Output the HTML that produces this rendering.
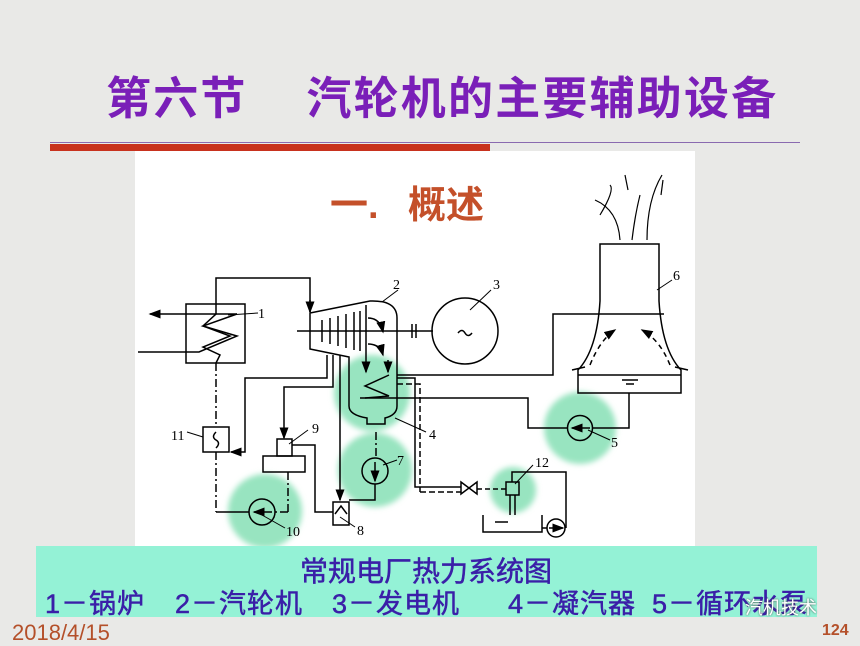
<!DOCTYPE html>
<html><head><meta charset="utf-8"><style>
body{margin:0;width:860px;height:645px;overflow:hidden;background:#e9e9e7;font-family:"Liberation Sans","Noto Sans CJK SC",sans-serif;position:relative}
.t{position:absolute;white-space:nowrap}
.b{font-size:27px;color:#3a1fa8;top:582px;-webkit-text-stroke:0.5px #3a1fa8;letter-spacing:1px}
</style></head><body>
<div class="t" style="left:106px;top:62px;font-size:45px;font-weight:bold;color:#7a1fb8;letter-spacing:2.2px">第六节&nbsp;&nbsp;&nbsp;&nbsp;汽轮机的主要辅助设备</div>
<div style="position:absolute;left:50px;top:144px;width:440px;height:7px;background:#c8321e"></div>
<div style="position:absolute;left:50px;top:142px;width:750px;height:1px;background:#8a6ab0"></div>
<div style="position:absolute;left:135px;top:151px;width:560px;height:395px;background:#fff"></div>
<svg style="position:absolute;left:0;top:0" width="860" height="645">
<defs><filter id="b"><feGaussianBlur stdDeviation="3"/></filter>
<marker id="a" markerWidth="8" markerHeight="6" refX="7" refY="3" orient="auto"><path d="M0,0L8,3L0,6z" fill="#000"/></marker></defs>
<g fill="#98e4c0" filter="url(#b)">
<circle cx="372" cy="393" r="38"/><circle cx="580" cy="428" r="36"/><circle cx="375" cy="470" r="37"/><circle cx="265" cy="511" r="37"/><circle cx="513" cy="490" r="23"/>
</g>
<g stroke="#000" stroke-width="1.5" fill="none">
<rect x="186" y="304" width="59" height="59"/>
<line x1="237" y1="314" x2="150" y2="314" marker-end="url(#a)"/>
<polyline points="138,352 199,352 237,336 203,326 237,314"/>
<polyline points="216,363 220,355 203,347 230,336 203,326 216,314 216,278 310,278 310,312" />
<line x1="310" y1="300" x2="310" y2="312" marker-end="url(#a)"/>
<path d="M310,313 L370,301 Q397,300 397,318 L397,370 L397,406 Q397,415 385,418 L385,424 L367,424 L367,418 Q349,415 349,406 L349,357 L310,349 Z"/>
<g><line x1="322" y1="320" x2="322" y2="342"/><line x1="330" y1="318" x2="330" y2="344"/><line x1="338" y1="316" x2="338" y2="346"/><line x1="346" y1="314" x2="346" y2="348"/><line x1="354" y1="312" x2="354" y2="350"/><line x1="360" y1="311" x2="360" y2="351"/><line x1="366" y1="305" x2="366" y2="360"/></g>
<path d="M368,318 Q380,318 383,332" marker-end="url(#a)"/><path d="M368,344 Q380,344 383,355" marker-end="url(#a)"/>
<line x1="366" y1="360" x2="366" y2="372" marker-end="url(#a)"/><line x1="388" y1="360" x2="388" y2="372" marker-end="url(#a)"/>
<polyline points="389,375 365,386 389,396 365,398"/>
<line x1="297" y1="331" x2="433" y2="331"/><line x1="412" y1="324" x2="412" y2="338"/><line x1="416" y1="324" x2="416" y2="338"/>
<circle cx="465" cy="331" r="33"/><path d="M458,333 q4,-5 7,0 q3,5 7,0"/>
<path d="M600,301 L600,244 L659,244 L659,301 Q662,350 681,370 L681,393 L578,393 L578,370 Q597,350 600,301Z"/>
<line x1="578" y1="375" x2="681" y2="375"/>
<line x1="572" y1="370" x2="585" y2="367"/><line x1="688" y1="370" x2="675" y2="367"/>
<polyline points="397,375 553,375 553,314 664,314" />
<g stroke-dasharray="5,4"><path d="M590,365 Q600,340 615,330" marker-end="url(#a)"/><path d="M670,365 Q660,340 642,330" marker-end="url(#a)"/></g>
<line x1="622" y1="380" x2="638" y2="380"/><line x1="626" y1="384" x2="634" y2="384"/>
<polyline points="360,398 528,398 528,428 568,428"/><polyline points="592,428 629,428 629,393"/>
<circle cx="580" cy="428" r="12.5"/><line x1="590" y1="428" x2="572" y2="428" marker-end="url(#a)"/>
<polyline points="327,355 327,378 245,378 245,452 231,452" marker-end="url(#a)"/>
<polyline points="333,355 333,387 284,387 284,438" marker-end="url(#a)"/>
<polyline points="340,355 340,500" marker-end="url(#a)"/>
<rect x="203" y="427" width="26" height="25"/><path d="M216,432 q-5,5 0,8 q5,3 0,8"/>
<rect x="277" y="439" width="15" height="17"/><rect x="263" y="456" width="42" height="16"/>
<circle cx="375" cy="471" r="13"/><line x1="375" y1="462" x2="375" y2="481" marker-end="url(#a)"/>
<polyline points="375,484 375,500 349,500"/>
<rect x="333" y="502" width="16" height="23"/><path d="M335,514 l6,-8 l6,8"/>
<polyline points="333,512 315,512 315,445 292,445"/>
<circle cx="262" cy="512" r="13"/><line x1="272" y1="512" x2="254" y2="512" marker-end="url(#a)"/>
<polyline points="249,512 216,512"/>
<g stroke-dasharray="8,3,2,3"><line x1="216" y1="363" x2="216" y2="427"/><line x1="216" y1="452" x2="216" y2="512"/><line x1="288" y1="472" x2="288" y2="512"/><line x1="288" y1="512" x2="275" y2="512"/><line x1="376" y1="432" x2="376" y2="458"/></g>
<polyline points="397,378 415,378 415,487 461,487"/><polyline points="397,384 420,384 420,492" stroke-dasharray="6,3"/>
<line x1="420" y1="492" x2="461" y2="492" stroke-dasharray="6,3"/>
<path d="M461,482 L477,494 L477,482 L461,494Z"/>
<line x1="477" y1="489" x2="506" y2="489" stroke-dasharray="5,3"/>
<rect x="506" y="482" width="13" height="13"/>
<line x1="510" y1="495" x2="510" y2="515"/><line x1="515" y1="495" x2="515" y2="515"/>
<polyline points="512,482 512,472 566,472 566,528"/>
<path d="M483,515 L483,532 L542,532 L542,515"/><line x1="495" y1="522" x2="508" y2="522"/>
<circle cx="556" cy="528" r="9"/><line x1="549" y1="528" x2="563" y2="528" marker-end="url(#a)"/>
<line x1="542" y1="528" x2="547" y2="528"/>
<g stroke-width="1"><line x1="228" y1="315" x2="258" y2="313"/><line x1="382" y1="302" x2="398" y2="290"/><line x1="470" y1="310" x2="491" y2="290"/><line x1="657" y1="290" x2="672" y2="280"/><line x1="395" y1="418" x2="426" y2="432"/><line x1="588" y1="430" x2="610" y2="440"/><line x1="383" y1="465" x2="397" y2="460"/><line x1="262" y1="515" x2="285" y2="528"/><line x1="340" y1="517" x2="355" y2="527"/><line x1="187" y1="432" x2="203" y2="437"/><line x1="289" y1="444" x2="308" y2="430"/><line x1="515" y1="484" x2="533" y2="465"/></g>
<g stroke-width="1.2"><path d="M620,240 q-2,-30 -25,-40"/><path d="M647,240 q0,-40 15,-65"/><path d="M632,240 q3,-25 8,-45"/><path d="M600,215 q15,-25 10,-30"/><path d="M625,175 l3,15"/><path d="M663,180 l-2,15"/></g>
</g>
<g font-family="Liberation Serif,serif" font-size="14" fill="#000">
<text x="258" y="318">1</text><text x="393" y="289">2</text><text x="493" y="289">3</text><text x="429" y="439">4</text><text x="611" y="447">5</text><text x="673" y="280">6</text><text x="397" y="465">7</text><text x="357" y="535">8</text><text x="312" y="433">9</text><text x="286" y="536">10</text><text x="171" y="440">11</text><text x="535" y="467">12</text>
</g>
</svg>
<div class="t" style="left:330px;top:174px;font-size:38px;font-weight:bold;color:#c4502a">一.</div>
<div class="t" style="left:408px;top:174px;font-size:38px;font-weight:bold;color:#c4502a">概述</div>
<div style="position:absolute;left:36px;top:546px;width:781px;height:71px;background:#94f2d6"></div>
<div class="t" style="left:300px;top:550px;font-size:28px;color:#3a1fa8;-webkit-text-stroke:0.5px #3a1fa8">常规电厂热力系统图</div>
<div class="t b" style="left:45px">1－锅炉</div>
<div class="t b" style="left:175px">2－汽轮机</div>
<div class="t b" style="left:332px">3－发电机</div>
<div class="t b" style="left:508px">4－凝汽器</div>
<div class="t b" style="left:652px">5－循环水泵</div>
<div class="t" style="left:745px;top:594px;font-size:18px;color:#fff;text-shadow:0 0 2px #444">汽机技术</div>
<div class="t" style="left:12px;top:620px;font-size:22px;color:#b4502a">2018/4/15</div>
<div class="t" style="left:822px;top:622px;font-size:16px;font-weight:bold;color:#b4502a">124</div>
</body></html>
